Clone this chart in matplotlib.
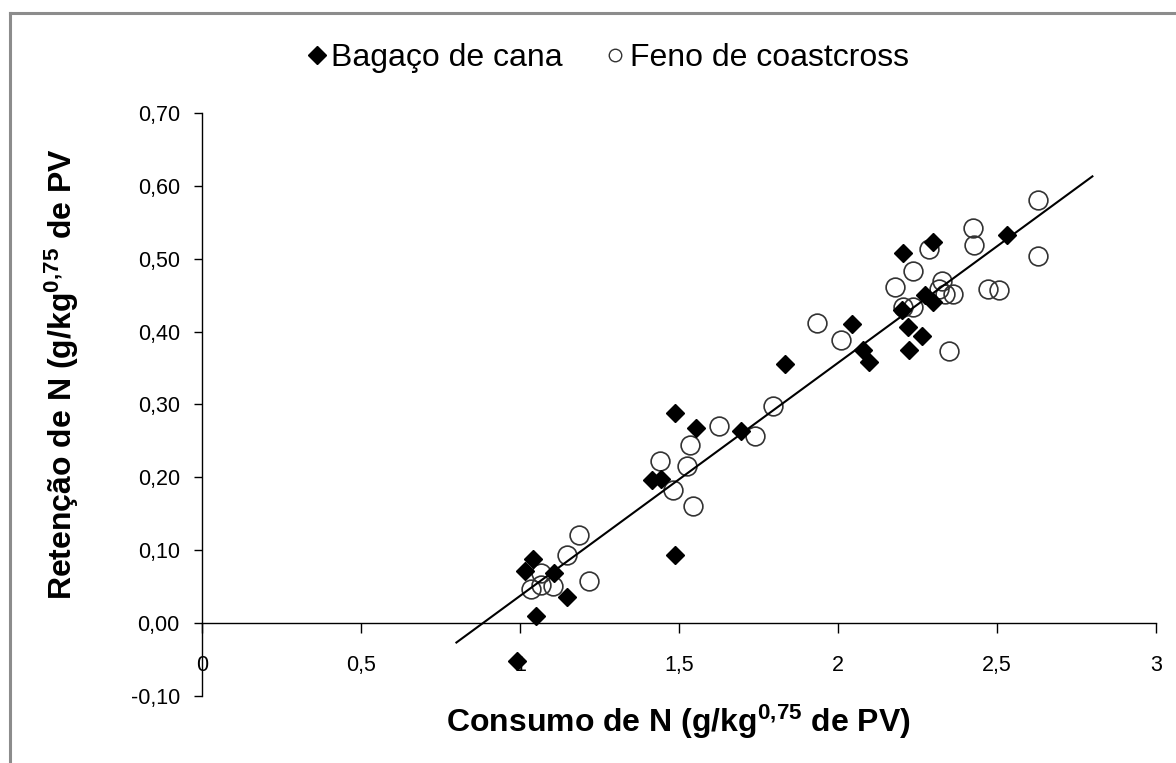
import matplotlib
matplotlib.use("Agg")
import matplotlib.pyplot as plt
from matplotlib.lines import Line2D

plt.rcParams['font.family'] = ['Liberation Sans', 'DejaVu Sans']
plt.rcParams['mathtext.fontset'] = 'custom'
plt.rcParams['mathtext.rm'] = 'Liberation Sans'
plt.rcParams['mathtext.it'] = 'Liberation Sans'
plt.rcParams['mathtext.bf'] = 'Liberation Sans:bold'

# ---- data ----
bagaco_x = [0.99, 1.016, 1.040, 1.050, 1.107, 1.149, 1.487,
            1.414, 1.442, 1.487, 1.553, 1.694, 1.833,
            2.045, 2.078, 2.097, 2.200, 2.205, 2.221, 2.224, 2.263,
            2.274, 2.300, 2.298, 2.530]
bagaco_y = [-0.053, 0.071, 0.088, 0.009, 0.068, 0.035, 0.093,
            0.196, 0.198, 0.288, 0.268, 0.263, 0.355,
            0.411, 0.374, 0.358, 0.429, 0.508, 0.406, 0.375, 0.394,
            0.450, 0.440, 0.523, 0.533]

feno_x = [1.036, 1.067, 1.067, 1.103, 1.147, 1.187, 1.218,
          1.440, 1.480, 1.524, 1.535, 1.543, 1.627, 1.739, 1.797,
          1.933, 2.011,
          2.179, 2.203, 2.237, 2.237, 2.287, 2.318, 2.326, 2.337, 2.363, 2.350,
          2.426, 2.429, 2.473, 2.505, 2.628, 2.628]
feno_y = [0.046, 0.068, 0.052, 0.050, 0.093, 0.121, 0.058,
          0.222, 0.182, 0.216, 0.244, 0.160, 0.270, 0.256, 0.298,
          0.412, 0.389,
          0.461, 0.434, 0.434, 0.483, 0.513, 0.458, 0.470, 0.451, 0.452, 0.373,
          0.542, 0.519, 0.458, 0.457, 0.581, 0.503]

trend_x = [0.80, 2.80]
trend_y = [-0.027, 0.613]

x_ticks = [0, 0.5, 1, 1.5, 2, 2.5, 3]
x_tick_labels = ['0', '0,5', '1', '1,5', '2', '2,5', '3']
y_ticks = [-0.10, 0.00, 0.10, 0.20, 0.30, 0.40, 0.50, 0.60, 0.70]
y_tick_labels = ['-0,10', '0,00', '0,10', '0,20', '0,30', '0,40', '0,50', '0,60', '0,70']

series_names = ['Bagaço de cana', 'Feno de coastcross']
x_label = r'Consumo de N (g/kg$^{\mathregular{0{,}75}}$ de PV)'
y_label = r'Retenção de N (g/kg$^{\mathregular{0{,}75}}$ de PV'

# ---- figure ----
fig = plt.figure(figsize=(11.76, 7.63), dpi=100)
ax = fig.add_axes([202/1176, 1 - 695.7/763, (1156-202)/1176, (695.7-113)/763])

ax.plot(feno_x, feno_y, linestyle='none', marker='o', markersize=13.5,
        markerfacecolor='none', markeredgecolor='#333333', markeredgewidth=1.2, zorder=3)
ax.plot(bagaco_x, bagaco_y, linestyle='none', marker='D', markersize=9.5,
        color='black', zorder=4)
ax.plot(trend_x, trend_y, color='black', linewidth=1.5, zorder=5)

ax.set_xlim(0, 3)
ax.set_ylim(-0.10, 0.70)
ax.spines['top'].set_visible(False)
ax.spines['right'].set_visible(False)
ax.spines['bottom'].set_position(('data', 0))
ax.spines['bottom'].set_linewidth(1.0)
ax.spines['left'].set_linewidth(1.0)

ax.set_xticks(x_ticks)
ax.set_xticklabels(x_tick_labels)
ax.set_yticks(y_ticks)
ax.set_yticklabels(y_tick_labels)
ax.tick_params(axis='x', direction='out', length=7, width=1, pad=16, labelsize=15.5)
ax.tick_params(axis='y', direction='out', length=6, width=1, pad=10, labelsize=15.5)

fig.text(678/1176, 1 - 722/763, x_label, ha='center', va='center',
         fontsize=23, fontweight='bold')
fig.text(62/1176, 1 - 374/763, y_label, ha='center', va='center',
         fontsize=23, fontweight='bold', rotation=90)

handles = [Line2D([], [], linestyle='none', marker='D', markersize=9.5, color='black'),
           Line2D([], [], linestyle='none', marker='o', markersize=9,
                  markerfacecolor='none', markeredgecolor='#333333', markeredgewidth=1.0)]
fig.legend(handles, series_names, loc='center', bbox_to_anchor=(607/1176, 1 - 58/763),
           ncol=2, frameon=False, fontsize=23, handlelength=0.7, handletextpad=0.1,
           columnspacing=1.3)

# outer border (only left and top visible in the reference)
fig.add_artist(Line2D([10/1176, 10/1176], [0, 1 - 13/763], transform=fig.transFigure,
                      color='#8c8c8c', linewidth=2.2))
fig.add_artist(Line2D([10/1176, 1], [1 - 13/763, 1 - 13/763], transform=fig.transFigure,
                      color='#8c8c8c', linewidth=2.2))

fig.savefig('out.png', dpi=100)
